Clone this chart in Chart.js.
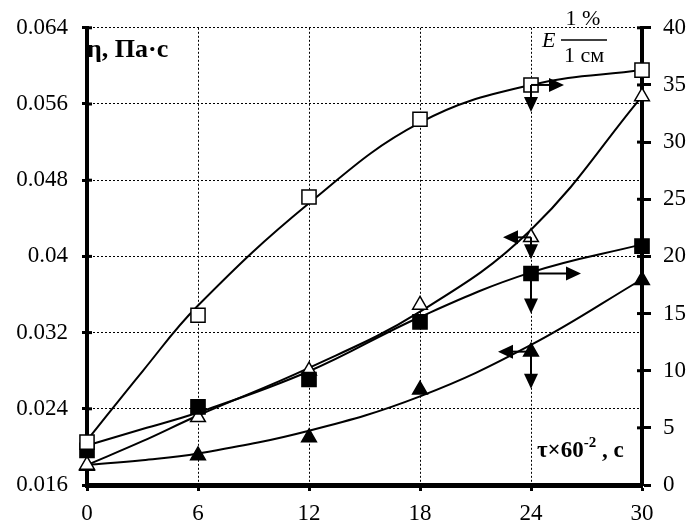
<!DOCTYPE html>
<html>
<head>
<meta charset="utf-8">
<script src="https://cdn.jsdelivr.net/npm/chart.js@4.4.1/dist/chart.umd.min.js"></script>
<style>
  html, body { margin: 0; padding: 0; background: #fff; }
  #wrap { width: 689px; height: 524px; }
</style>
</head>
<body>
<div id="wrap"><canvas id="chart"></canvas></div>
<script>
// время, τ×60^-2, с
const times = [0, 6, 12, 18, 24, 30];

// E 1%/1см (правая ось) — экспериментальные точки
const openSquares   = [3.75, 14.85, 25.2, 32.0, 35.0, 36.3];
const filledSquares = [3.03, 6.83, 9.23, 14.27, 18.5, 20.9];

// η, Па·с (левая ось) — экспериментальные точки
const openTriangles   = [0.0181, 0.0231, 0.0280, 0.0349, 0.0420, 0.0568];
const filledTriangles = [0.0180, 0.0191, 0.0210, 0.0260, 0.0300, 0.0375];

// линии тренда
const trendTimes           = [0, 3, 6, 12, 18, 24, 30];
const trendOpenSquares     = [3.9, 9.95, 15.7, 24.65, 31.7, 35.0, 36.3];
const trendFilledSquares   = [3.46, 4.9, 6.34, 9.95, 14.7, 18.6, 21.05];
const trendOpenTriangles   = [0.0181, 0.0206, 0.0233, 0.0283, 0.0342, 0.0428, 0.0568];
const trendFilledTriangles = [0.0181, 0.0186, 0.0193, 0.0217, 0.0253, 0.0307, 0.0376];

// подписи делений
const xTickLabels     = ['0', '6', '12', '18', '24', '30'];
const leftTickLabels  = ['0.016', '0.024', '0.032', '0.04', '0.048', '0.056', '0.064'];
const rightTickLabels = ['0', '5', '10', '15', '20', '25', '30', '35', '40'];

const FONT = '"Liberation Serif", "Times New Roman", serif';

function pts(xs, arr) {
  return xs.map((t, i) => ({ x: t, y: arr[i] }));
}

function markers(label, arr, axis, style, fill) {
  return {
    label,
    data: pts(times, arr),
    yAxisID: axis,
    showLine: false,
    clip: false,
    order: 0,
    pointStyle: style,
    pointRadius: style === 'rect' ? 10 : 8.5,
    pointBorderWidth: 1.5,
    pointBorderColor: '#000',
    pointBackgroundColor: fill ? '#000' : '#fff'
  };
}

function trend(label, arr, axis) {
  return {
    label,
    data: pts(trendTimes, arr),
    yAxisID: axis,
    borderColor: '#000',
    borderWidth: 2,
    tension: 0.4,
    pointRadius: 0,
    fill: false,
    clip: false,
    order: 1
  };
}

// стрелки у точек при τ = 24: к какой оси относится кривая
const arrowMarks = [
  { ds: 0, side: 'right', hLen: 33, vLen: 27 },
  { ds: 1, side: 'right', hLen: 50, vLen: 40 },
  { ds: 2, side: 'left',  hLen: 28, vLen: 22 },
  { ds: 3, side: 'left',  hLen: 33, vLen: 37 }
];
const arrowIndex = 4;

function arrowHead(ctx, x, y, dir) {
  const L = 15, W = 7;
  ctx.beginPath();
  if (dir === 'right') { ctx.moveTo(x, y); ctx.lineTo(x - L, y - W); ctx.lineTo(x - L, y + W); }
  if (dir === 'left')  { ctx.moveTo(x, y); ctx.lineTo(x + L, y - W); ctx.lineTo(x + L, y + W); }
  if (dir === 'down')  { ctx.moveTo(x, y); ctx.lineTo(x - W, y - L); ctx.lineTo(x + W, y - L); }
  ctx.closePath();
  ctx.fill();
}

const decorPlugin = {
  id: 'decor',
  afterDatasetsDraw(chart) {
    const ctx = chart.ctx;
    ctx.save();
    ctx.strokeStyle = '#000';
    ctx.fillStyle = '#000';
    ctx.lineWidth = 2;
    arrowMarks.forEach(a => {
      const ds = chart.data.datasets[a.ds];
      const p = ds.data[arrowIndex];
      const x = chart.scales.x.getPixelForValue(p.x);
      const y = chart.scales[ds.yAxisID].getPixelForValue(p.y);
      const sgn = a.side === 'right' ? 1 : -1;
      ctx.beginPath();
      ctx.moveTo(x, y);
      ctx.lineTo(x + sgn * (a.hLen - 10), y);
      ctx.stroke();
      arrowHead(ctx, x + sgn * a.hLen, y, a.side);
      ctx.beginPath();
      ctx.moveTo(x, y);
      ctx.lineTo(x, y + a.vLen - 10);
      ctx.stroke();
      arrowHead(ctx, x, y + a.vLen, 'down');
    });
    ctx.restore();
  },
  afterDraw(chart) {
    const ctx = chart.ctx;
    ctx.save();
    // деления, пересекающие вертикальные оси
    ctx.strokeStyle = '#000';
    ctx.lineWidth = 3;
    const ya = chart.scales.y, yb = chart.scales.y2;
    ya.ticks.forEach((t, i) => {
      const py = ya.getPixelForTick(i);
      ctx.beginPath(); ctx.moveTo(ya.right, py); ctx.lineTo(ya.right + 5, py); ctx.stroke();
    });
    yb.ticks.forEach((t, i) => {
      const py = yb.getPixelForTick(i);
      ctx.beginPath(); ctx.moveTo(yb.left - 5, py); ctx.lineTo(yb.left, py); ctx.stroke();
    });

    ctx.fillStyle = '#000';
    ctx.textBaseline = 'alphabetic';
    ctx.textAlign = 'left';
    // η, Па·с
    ctx.font = 'bold 26px ' + FONT;
    ctx.fillText('η, Па·с', 87, 57);
    // τ×60^-2 , с
    let x = 537;
    ctx.font = 'bold 23px ' + FONT;
    ctx.fillText('τ×60', x, 457);
    x += ctx.measureText('τ×60').width;
    ctx.font = 'bold 15px ' + FONT;
    ctx.fillText('-2', x, 447);
    x += ctx.measureText('-2').width;
    ctx.font = 'bold 23px ' + FONT;
    ctx.fillText(' , с', x, 457);
    // E 1%/1см
    ctx.font = 'italic 22px ' + FONT;
    ctx.fillText('E', 542, 47);
    ctx.font = '22px ' + FONT;
    ctx.textAlign = 'center';
    ctx.fillText('1 %', 583, 25);
    ctx.fillText('1 см', 584, 62);
    ctx.lineWidth = 1.3;
    ctx.beginPath();
    ctx.moveTo(561, 40);
    ctx.lineTo(607, 40);
    ctx.stroke();
    ctx.restore();
  }
};

const tickFont = { family: FONT, size: 23 };

new Chart(document.getElementById('chart'), {
  type: 'line',
  data: {
    datasets: [
      markers('E (□)', openSquares, 'y2', 'rect', false),
      markers('E (■)', filledSquares, 'y2', 'rect', true),
      markers('η (△)', openTriangles, 'y', 'triangle', false),
      markers('η (▲)', filledTriangles, 'y', 'triangle', true),
      trend('тренд □', trendOpenSquares, 'y2'),
      trend('тренд ■', trendFilledSquares, 'y2'),
      trend('тренд △', trendOpenTriangles, 'y'),
      trend('тренд ▲', trendFilledTriangles, 'y')
    ]
  },
  options: {
    responsive: true,
    maintainAspectRatio: false,
    animation: false,
    layout: { padding: { top: 23, left: 0, right: 0, bottom: 0 } },
    plugins: { legend: { display: false }, tooltip: { enabled: false } },
    scales: {
      x: {
        type: 'linear',
        min: 0, max: 30,
        ticks: {
          stepSize: 6, color: '#000', font: tickFont, padding: 9,
          callback: (v, i) => xTickLabels[i]
        },
        grid: {
          color: '#000', lineWidth: 1,
          drawTicks: true, tickLength: 6, tickWidth: 3, tickColor: '#000', tickBorderDash: []
        },
        border: { display: true, color: '#000', width: 5, dash: [2, 2] },
        afterFit: s => { s.height = 39; }
      },
      y: {
        position: 'left',
        min: 0.016, max: 0.064,
        ticks: {
          stepSize: 0.008, color: '#000', font: tickFont, padding: 14,
          callback: (v, i) => leftTickLabels[i]
        },
        grid: {
          color: '#000', lineWidth: 1,
          drawTicks: true, tickLength: 5, tickWidth: 3, tickColor: '#000', tickBorderDash: []
        },
        border: { display: true, color: '#000', width: 4, dash: [2, 2] },
        afterFit: s => { s.width = 87; }
      },
      y2: {
        position: 'right',
        min: 0, max: 40,
        ticks: {
          stepSize: 5, color: '#000', font: tickFont, padding: 12,
          callback: (v, i) => rightTickLabels[i]
        },
        grid: {
          drawOnChartArea: false,
          drawTicks: true, tickLength: 9, tickWidth: 3, tickColor: '#000'
        },
        border: { display: true, color: '#000', width: 4 },
        afterFit: s => { s.width = 47; }
      }
    }
  },
  plugins: [decorPlugin]
});
</script>
</body>
</html>
